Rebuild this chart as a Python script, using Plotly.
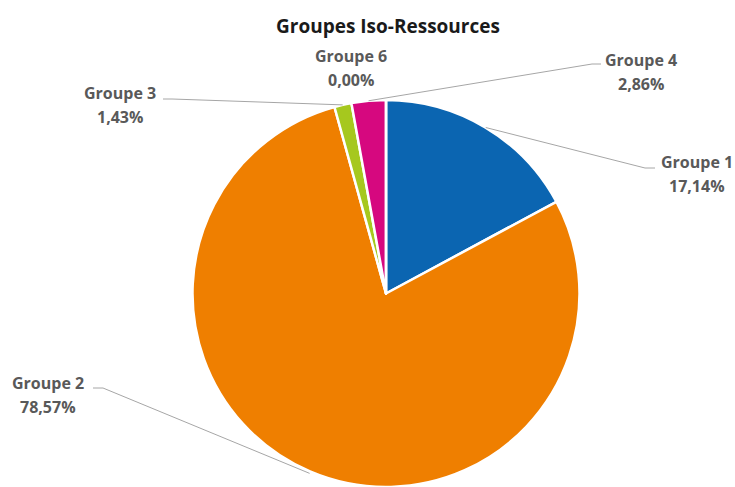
import math
import plotly.graph_objects as go

labels = ["Groupe 1", "Groupe 2", "Groupe 3", "Groupe 4", "Groupe 6"]
values = [17.14, 78.57, 1.43, 2.86, 0.00]
pct_text = ["17,14%", "78,57%", "1,43%", "2,86%", "0,00%"]
colors = ["#0b65b1", "#ef7f00", "#a6c81e", "#d6087f", "#888888"]

W, H = 735, 487
CX, CY, R = 386.0, 294.5, 194.5

# label text centre (px) and leader-line knee / end (px); None = no line
label_pos = {
    "Groupe 1": (697, 174, (655, 168), (645, 168)),
    "Groupe 2": (48, 395, (93, 388), (103, 388)),
    "Groupe 3": (120, 105, (163, 99), (172, 99)),
    "Groupe 4": (641, 72, (601, 64), (592, 64)),
    "Groupe 6": (351, 68, None, None),
}

def px2paper(x, y):
    return x / W, 1 - y / H

fig = go.Figure()
fig.add_trace(go.Pie(
    labels=labels, values=values, sort=False, direction="clockwise", rotation=0,
    marker=dict(colors=colors, line=dict(color="white", width=2.5)),
    textinfo="none", hoverinfo="label+percent", showlegend=False,
    domain=dict(x=[(CX - R) / W, (CX + R) / W], y=[0, (H - (CY - R)) / H]),
))

shapes = []
annotations = []
total = sum(values)
cum = 0.0
font = dict(family="Open Sans", size=16, color="#595959")
for lab, v, pt in zip(labels, values, pct_text):
    mid = (cum + v / 2) / total * 2 * math.pi
    cum += v
    ex = CX + R * math.sin(mid)
    ey = CY - R * math.cos(mid)
    tx, ty, p1, p2 = label_pos[lab]
    if p1 is not None:
        pts = [p1, p2, (ex, ey)]
        for (ax, ay), (bx, by) in zip(pts[:-1], pts[1:]):
            x0, y0 = px2paper(ax, ay)
            x1, y1 = px2paper(bx, by)
            shapes.append(dict(type="line", xref="paper", yref="paper",
                               x0=x0, y0=y0, x1=x1, y1=y1,
                               line=dict(color="#a6a6a6", width=1)))
    for txt, dy in ((lab, -12), (pt, 12)):
        ax_, ay_ = px2paper(tx, ty + dy)
        annotations.append(dict(
            x=ax_, y=ay_, xref="paper", yref="paper", showarrow=False,
            text=f"<b>{txt}</b>", xanchor="center", yanchor="middle", font=font,
        ))

fig.update_layout(
    width=W, height=H, autosize=False,
    margin=dict(l=0, r=0, t=0, b=0),
    paper_bgcolor="white", plot_bgcolor="white",
    title=dict(text="<b>Groupes Iso-Ressources</b>", x=388 / W, xanchor="center",
               y=1 - 26 / H, yanchor="middle",
               font=dict(family="Open Sans", size=19, color="#1a1a1a")),
    shapes=shapes, annotations=annotations,
)
fig.write_html("out.html")
